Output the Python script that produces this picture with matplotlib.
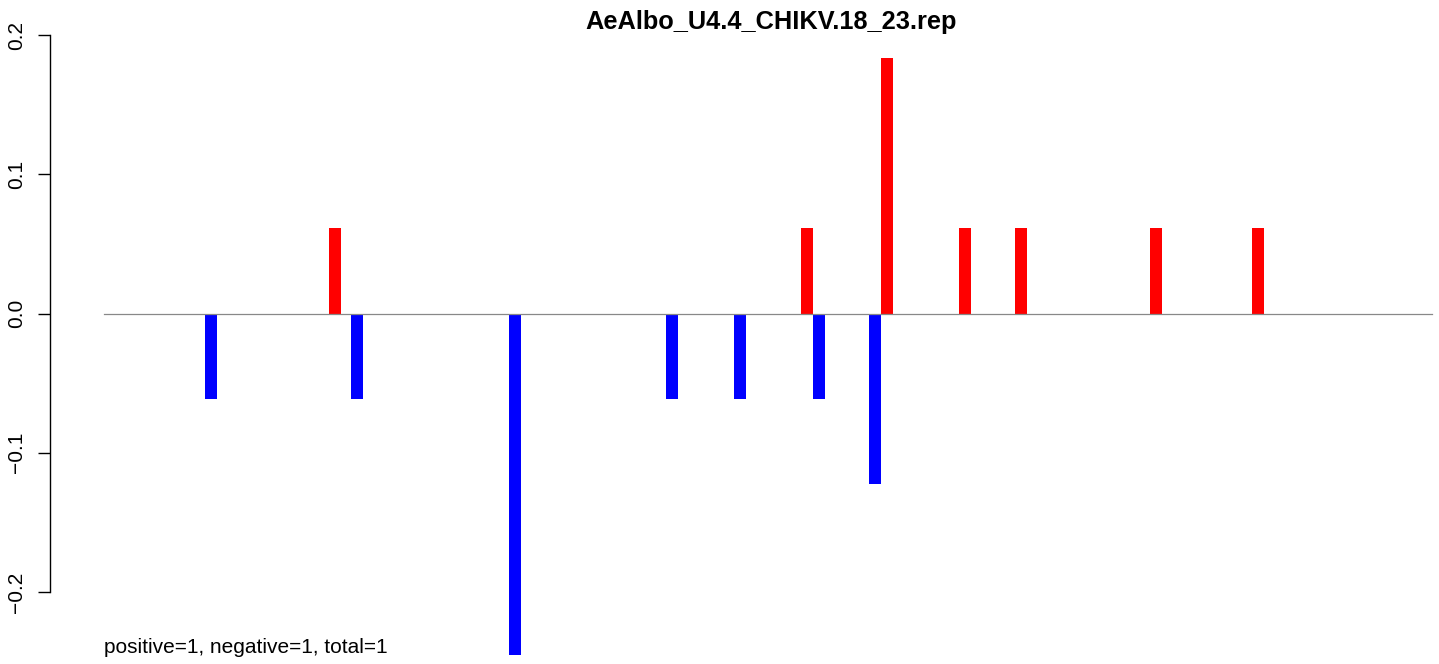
import matplotlib
matplotlib.use("Agg")
import matplotlib.pyplot as plt

plt.rcParams['font.family'] = ['Liberation Sans', 'DejaVu Sans']

title = "AeAlbo_U4.4_CHIKV.18_23.rep"
note = "positive=1, negative=1, total=1"

# positions along the sequence (line starts at 0)
pos_positions = [231, 703, 783, 861, 917, 1052, 1154]
pos_values = [0.0613, 0.0613, 0.1836, 0.0613, 0.0613, 0.0613, 0.0613]
neg_positions = [107, 253, 411, 568, 636, 715, 771]
neg_values = [-0.0613, -0.0613, -0.2449, -0.0613, -0.0613, -0.0613, -0.1226]
line_start, line_end = 0, 1328
yticks = [-0.2, -0.1, 0.0, 0.1, 0.2]
ytick_labels = ["\u22120.2", "\u22120.1", "0.0", "0.1", "0.2"]

W, H, DPI = 1439, 664, 100
fig = plt.figure(figsize=(W / DPI, H / DPI), dpi=DPI)
ax = fig.add_axes([50 / W, 0, 1 - 50 / W, 1])
ax.patch.set_alpha(0)

px_per_unit = (592 - 35) / 0.4
ax.set_ylim(-0.2 - (H - 592) / px_per_unit, 0.2 + 35 / px_per_unit)
ax.set_xlim(50 - 104, W - 104)

bw = 12
ax.bar(pos_positions, pos_values, width=bw, color='#FF0000', linewidth=0, zorder=2)
ax.bar(neg_positions, neg_values, width=bw, color='#0000FF', linewidth=0, zorder=2)
ax.plot([line_start, line_end], [0, 0], color='#888888', linewidth=0.9, zorder=3)

for s in ['top', 'right', 'bottom']:
    ax.spines[s].set_visible(False)
ax.spines['left'].set_bounds(-0.2, 0.2)
ax.spines['left'].set_linewidth(1.0)
ax.set_xticks([])
ax.set_yticks(yticks)
ax.set_yticklabels(ytick_labels, rotation=90, va='center', fontsize=15)
ax.tick_params(axis='y', length=9, width=1.0, pad=8)

ax.text(line_start, -0.2395, note, fontsize=15, ha='left', va='center')
fig.text(771 / W, 1 - 22 / H, title, fontsize=18.3, fontweight='bold', ha='center', va='center')

fig.savefig("out.png", dpi=DPI)
